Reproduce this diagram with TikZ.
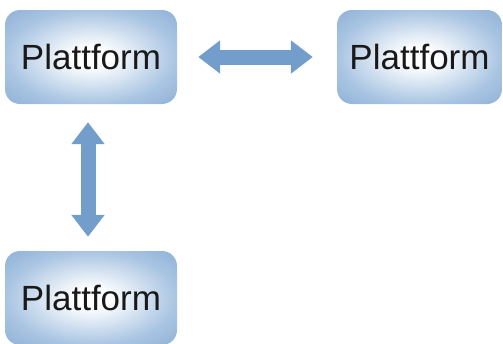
\documentclass[tikz,border=0pt]{standalone}
\usepackage{fontspec}
\setmainfont{Liberation Sans}
\usetikzlibrary{arrows.meta}
\definecolor{platedge}{RGB}{168,196,226}
\definecolor{platcorner}{RGB}{142,177,214}
\definecolor{arrowblue}{RGB}{115,158,203}
\pgfdeclareradialshading{platshade}{\pgfpoint{0bp}{0bp}}{%
  color(0bp)=(white); color(5bp)=(white); color(25bp)=(platedge);
  color(36bp)=(platcorner); color(50bp)=(platcorner)}
\tikzset{
  platform/.style={
    rectangle, rounded corners=15pt,
    shading=platshade,
    minimum width=172pt, minimum height=94pt, inner sep=0pt,
    font=\fontsize{35}{42}\selectfont, text=black!90
  },
  biarrow/.style={
    draw=arrowblue, line width=15pt,
    {Triangle[width=32pt,length=22pt]}-{Triangle[width=32pt,length=22pt]}
  }
}

\begin{document}
\begin{tikzpicture}[x=1pt,y=-1pt]
\useasboundingbox (0,0) rectangle (503,343);
\node[platform] (p1) at (91,57) {Plattform};
\node[platform, minimum width=165pt] (p2) at (419.5,57) {Plattform};
\node[platform] (p3) at (91,298) {Plattform};
\draw[biarrow, shorten <=21pt, shorten >=24pt] (p1) -- (p2);
\draw[biarrow, shorten <=18pt, shorten >=14pt]
  ([xshift=-3pt]p1.south) -- ([xshift=-3pt]p3.north);
\end{tikzpicture}
\end{document}
